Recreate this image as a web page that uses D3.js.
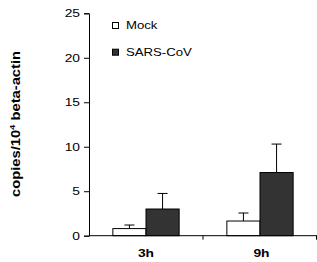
<!DOCTYPE html>
<html><head><meta charset="utf-8">
<script src="https://cdn.jsdelivr.net/npm/d3@7"></script>
<style>body{margin:0;background:#fff}svg{display:block}text{font-family:"Liberation Sans",Arial,sans-serif}</style>
</head><body><svg id="c" width="317" height="262"></svg>
<script>
const categories = ["3h", "9h"];
const series = ["Mock", "SARS-CoV"];
const mockValues = [0.8, 1.65];
const mockErrors = [0.4, 0.9];
const sarsValues = [3.0, 7.1];
const sarsErrors = [1.75, 3.2];
const yTicks = [0, 5, 10, 15, 20, 25];
const colors = {"Mock": "#ffffff", "SARS-CoV": "#333333"};

const SX = 1.2; // horizontal text stretch seen in the reference
function stretch(sel, cx) {
  sel.attr("transform", function() {
    const x0 = cx != null ? cx : +d3.select(this).attr("x") || 0;
    return `translate(${x0},0) scale(${SX},1) translate(${-x0},0)`;
  });
}

const svg = d3.select("#c");
const m = {l: 89, r: 0, t: 13.3, b: 26.3};
const W = 317, H = 262;
const x = d3.scaleBand().domain(categories).range([m.l, W - m.r]).paddingInner(0).paddingOuter(0);
const y = d3.scaleLinear().domain([0, 25]).range([H - m.b, m.t]);
const inner = d3.scaleBand().domain(series).range([0, x.bandwidth()]).paddingInner(0).paddingOuter(0.72);

const data = [];
categories.forEach((c, i) => {
  data.push({c, s: "Mock", v: mockValues[i], e: mockErrors[i]});
  data.push({c, s: "SARS-CoV", v: sarsValues[i], e: sarsErrors[i]});
});

// y axis
const ya = svg.append("g").attr("transform", `translate(${m.l},0)`)
  .call(d3.axisLeft(y).tickValues(yTicks).tickSize(5).tickPadding(4));
ya.select(".domain").attr("stroke", "#000");
ya.selectAll(".tick line").attr("stroke", "#000");
ya.selectAll("text").style("font-size", "11.5px").attr("fill", "#000").call(stretch);

// error bars
const eg = svg.append("g").attr("stroke", "#000").attr("stroke-width", 1);
data.forEach(d => {
  const cx = x(d.c) + inner(d.s) + inner.bandwidth() / 2;
  eg.append("line").attr("x1", cx).attr("x2", cx).attr("y1", y(d.v)).attr("y2", y(d.v + d.e));
  eg.append("line").attr("x1", cx - 5).attr("x2", cx + 5).attr("y1", y(d.v + d.e)).attr("y2", y(d.v + d.e));
});

// bars
svg.append("g").selectAll("rect").data(data).join("rect")
  .attr("x", d => x(d.c) + inner(d.s))
  .attr("y", d => y(d.v))
  .attr("width", inner.bandwidth())
  .attr("height", d => y(0) - y(d.v))
  .attr("fill", d => colors[d.s])
  .attr("stroke", "#000").attr("stroke-width", 1);

// x axis
const xa = svg.append("g").attr("transform", `translate(0,${y(0)})`);
xa.append("line").attr("x1", m.l).attr("x2", W).attr("stroke", "#000");
[x("9h"), W - 0.5].forEach(px => xa.append("line").attr("x1", px).attr("x2", px).attr("y1", 0).attr("y2", 4).attr("stroke", "#000"));
categories.forEach(c => {
  svg.append("text").attr("x", x(c) + x.bandwidth() / 2 + (c === "9h" ? 1.5 : 0)).attr("y", 256.7)
    .attr("text-anchor", "middle").style("font-size", "11.5px").style("font-weight", "bold").text(c).call(stretch);
});

// y label (stretched along its length)
const yl = svg.append("text").attr("transform", `translate(19.5,124) rotate(-90) scale(1.18,1)`)
  .attr("text-anchor", "middle").style("font-size", "12.5px").style("font-weight", "bold");
yl.append("tspan").text("copies/10");
yl.append("tspan").attr("dy", -5).style("font-size", "8px").text("4");
yl.append("tspan").attr("dy", 5).text(" beta-actin");

// legend
series.forEach((s, i) => {
  const ly = 22.5 + i * 26.7;
  svg.append("rect").attr("x", 112.5).attr("y", ly).attr("width", 6).attr("height", 6)
    .attr("fill", colors[s]).attr("stroke", "#000");
  svg.append("text").attr("x", 126).attr("y", ly + 6.5).style("font-size", "11px").text(s).call(stretch);
});
</script></body></html>
